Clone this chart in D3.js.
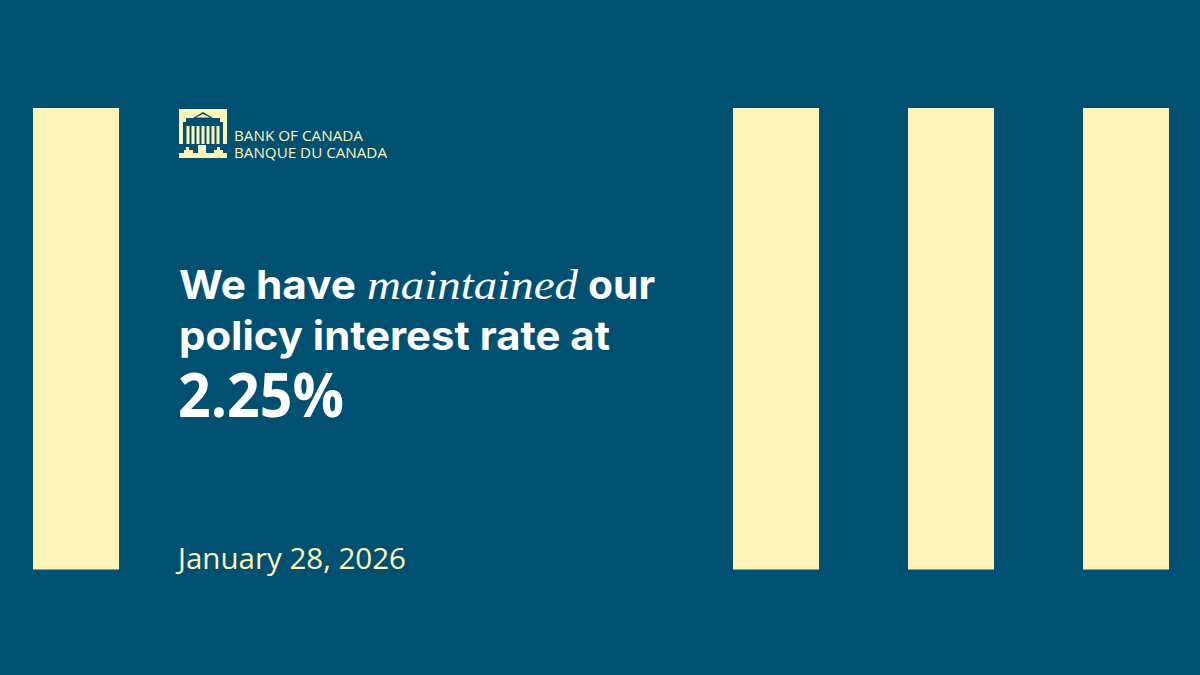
<!DOCTYPE html>
<html><head><meta charset="utf-8">
<style>html,body{margin:0;padding:0;background:#005072;overflow:hidden}svg{display:block}</style>
<script src="https://cdn.jsdelivr.net/npm/d3@7"></script></head><body>
<script>
const slots = ["a","b","c","d","e","f","g"];
const barValues = [1,0,0,0,1,1,1];
const bg="#005072", cream="#FFF3B8", white="#FFFFFF";
const W=1200,H=675;
const svg=d3.select("body").append("svg").attr("width",W).attr("height",H);
svg.append("rect").attr("width",W).attr("height",H).attr("fill",bg);
const x=d3.scaleBand().domain(slots).range([33,1169]).paddingInner(89/175).paddingOuter(0);
const y=d3.scaleLinear().domain([0,1]).range([569.5,108]);
svg.selectAll("rect.bar").data(slots.map((s,i)=>({s,v:barValues[i]})).filter(d=>d.v>0)).join("rect")
 .attr("class","bar").attr("x",d=>x(d.s)).attr("width",x.bandwidth()).attr("y",d=>y(d.v)).attr("height",d=>y(0)-y(d.v)).attr("fill",cream);

// logo
const g=svg.append("g").attr("transform","translate(179,109)");
g.append("path").attr("fill",cream).attr("d","M0,0 H48 V35 H44 V34 H4 V35 H0 Z");
g.append("path").attr("fill",bg).attr("d","M4,35 V13 H7 V9 H14 L24,3 L34,9 H41 V13 H44 V35 Z");
g.append("path").attr("fill",cream).attr("d","M17,8.5 L24,5 L31,8.5 Z");
[7.5,12.5,17.5,22.5,27.5,32.5,37.5].forEach(px=>g.append("rect").attr("x",px).attr("y",17).attr("width",3).attr("height",18).attr("fill",cream));
g.append("rect").attr("x",0).attr("y",44).attr("width",48).attr("height",5).attr("fill",cream);
g.append("path").attr("fill",cream).attr("d","M5,45 V41 H7 V38 H10 V41 H14 V45 Z M19,45 V36 H27 V45 Z M35,45 V41 H38 V38 H41 V41 H44 V45 Z");
const t=(tx,ty,txt,size,fam,weight,fill,len)=>{const e=svg.append("text").attr("x",tx).attr("y",ty).attr("font-size",size).attr("font-family",fam).attr("font-weight",weight).attr("fill",fill).text(txt);if(len)e.attr("textLength",len).attr("lengthAdjust","spacingAndGlyphs");return e;};
t(234,141,"BANK OF CANADA",14.2,"'Open Sans'",500,cream,129);
t(234,158,"BANQUE DU CANADA",14.2,"'Open Sans'",500,cream,153);

const head="Inter, 'Noto Sans', sans-serif";
t(179,299,"We have",40,head,650,white,177);
t(367,299,"maintained",42,"'Liberation Serif', serif",400,white,211).attr("font-style","italic");
t(588,299,"our",40,head,650,white,67);
t(179,350,"policy interest rate at",40,head,650,white,431);
t(178,417,"2.25%",60,"'Open Sans'",700,white,166);
t(178,569,"January 28, 2026",29,"'Open Sans'",400,cream,228);
</script></body></html>
